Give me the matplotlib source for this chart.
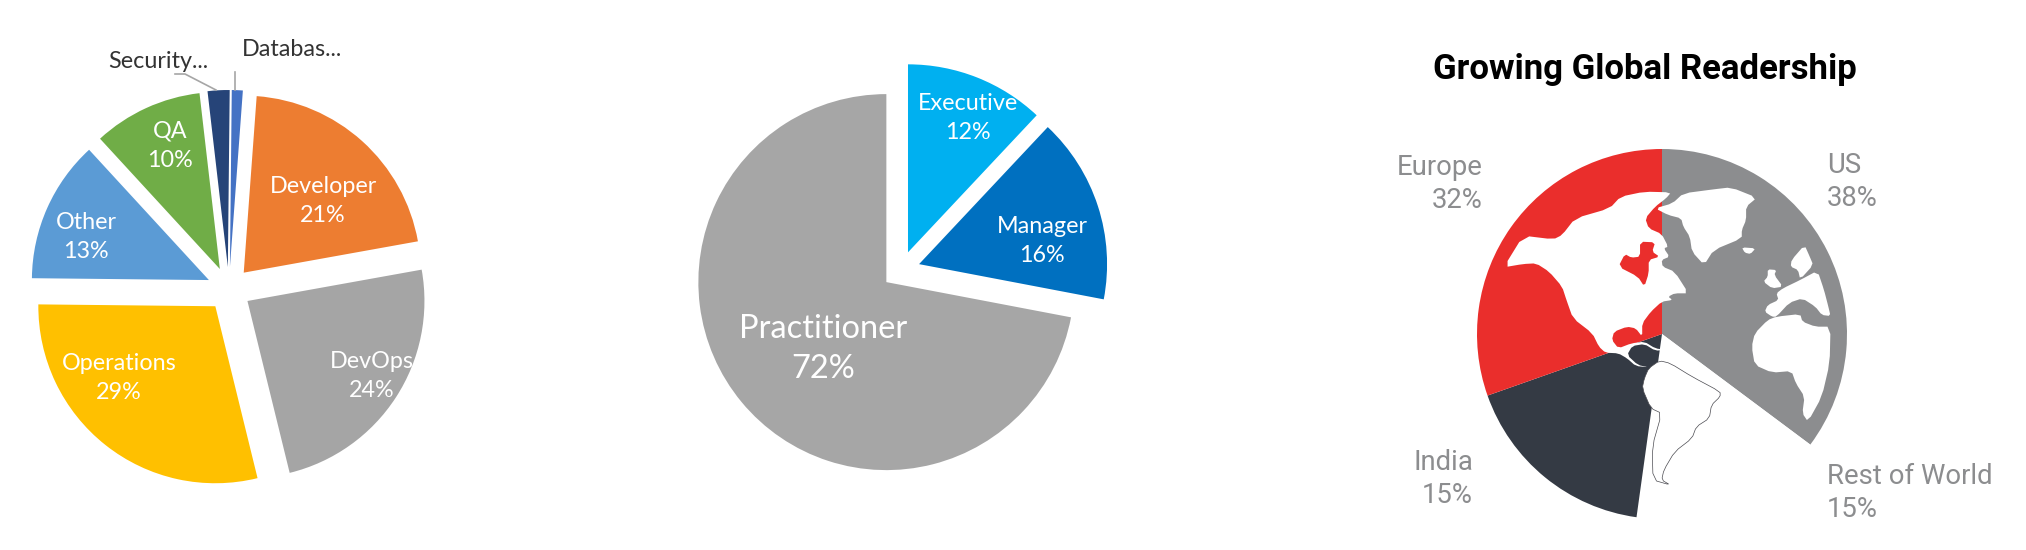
import matplotlib
matplotlib.use("Agg")
import matplotlib.pyplot as plt
import numpy as np
from matplotlib.patches import Polygon

plt.rcParams['font.family'] = ['Lato', 'DejaVu Sans']

# role pie
role_names = ["Developer", "DevOps", "Operations", "Other", "QA", "Security...", "Databas..."]
role_values = [21, 24, 29, 13, 10, 2, 1]
role_colors = ["#ED7D31", "#A5A5A5", "#FFC000", "#5B9BD5", "#70AD47", "#264478", "#4472C4"]

# level pie
level_names = ["Executive", "Manager", "Practitioner"]
level_values = [12, 16, 72]
level_colors = ["#00B0F0", "#0070C0", "#A6A6A6"]

# region pie, slice sizes as drawn in the picture differ from the printed numbers
region_names = ["US", "Rest of World", "India", "Europe"]
region_labels = [38, 15, 15, 32]
region_sizes = [35.2, 17.0, 17.4, 30.4]
region_colors = ["#8C8D8F", "#FFFFFF", "#343A44", "#EA2E2C"]

W, H = 2026, 550
fig = plt.figure(figsize=(W / 100, H / 100), dpi=100)
ax = fig.add_axes([0, 0, 1, 1])


def y_up(y):
    return H - y


# left pie
ax.pie(role_values, colors=role_colors, startangle=85.8, counterclock=False,
       center=(229, y_up(289)), radius=177, explode=[22] * 7, frame=True,
       wedgeprops={"linewidth": 0})

role_text = [(323, 201), (372, 376), (119, 378), (86, 237), (170, 146)]
for (x, y), name, val in zip(role_text, role_names, role_values):
    ax.text(x, y_up(y), f"{name}\n{val}%", color="white", fontsize=16.8, ha="center",
            va="center", linespacing=1.5)

ax.text(158, y_up(62), role_names[5], color="#333333", fontsize=16.8, ha="center", va="center")
ax.text(292, y_up(49), role_names[6], color="#333333", fontsize=16.8, ha="center", va="center")
ax.plot([175, 185, 216], [y_up(74), y_up(74), y_up(90)], color="#A6A6A6", lw=1.2)
ax.plot([235, 235], [y_up(72), y_up(90)], color="#A6A6A6", lw=1.2)

# middle pie
ax.pie(level_values, colors=level_colors, startangle=90, counterclock=False,
       center=(901, y_up(270)), radius=188, explode=[19, 19, 19], frame=True,
       wedgeprops={"linewidth": 0})

level_text = [(968, 118, 16.8), (1042, 241, 16.8), (823, 349, 23.5)]
for (x, y, size), name, val in zip(level_text, level_names, level_values):
    ax.text(x, y_up(y), f"{name}\n{val}%", color="white", fontsize=size, ha="center",
            va="center", linespacing=1.5 if size < 20 else 1.45)

# right pie
ax.pie(region_sizes, colors=region_colors, startangle=90, counterclock=False,
       center=(1662, y_up(334)), radius=185, frame=True, wedgeprops={"linewidth": 0})

ax.set_xlim(0, W)
ax.set_ylim(0, H)
ax.axis("off")


def traced(points, rounds=1):
    pts = np.array(points, dtype=float)
    for i in range(rounds):
        nxt = np.roll(pts, -1, axis=0)
        pts = np.column_stack([0.8 * pts + 0.2 * nxt, 0.2 * pts + 0.8 * nxt]).reshape(-1, 2)
    return np.column_stack([1350 + pts[:, 0] / 2.31, H - (30 + pts[:, 1] / 3)])


america = [(355, 712), (400, 617), (470, 628), (490, 615), (520, 565), (600, 535), (625, 500),
           (680, 485), (742, 487), (730, 505), (705, 530), (682, 565), (690, 595), (720, 612),
           (735, 650), (725, 655), (738, 680), (720, 690), (722, 710), (750, 725), (782, 790),
           (750, 790), (735, 800), (745, 810), (720, 815), (695, 845), (675, 880), (675, 920),
           (660, 895), (640, 890), (610, 905), (605, 930), (620, 955), (650, 940), (680, 935),
           (705, 955), (730, 960), (705, 962), (680, 942), (652, 948), (640, 975), (665, 1005),
           (690, 1012), (660, 1008), (640, 985), (620, 970), (590, 968), (575, 950), (560, 910),
           (515, 865), (500, 810), (490, 770), (460, 725), (430, 700), (400, 702)]
hudson = [(670, 635), (705, 637), (698, 665), (715, 680), (690, 690), (690, 730), (680, 770),
          (665, 740), (620, 710), (635, 672), (650, 683), (670, 680)]
south = [(690, 1015), (715, 992), (740, 1000), (790, 1040), (855, 1085), (855, 1100), (835, 1125),
         (830, 1165), (800, 1190), (790, 1225), (750, 1265), (725, 1320), (720, 1350), (740, 1365),
         (700, 1350), (698, 1250), (720, 1150), (695, 1135), (675, 1075), (680, 1045)]
greenland = [(705, 535), (745, 520), (770, 490), (840, 478), (880, 472), (940, 503), (915, 530),
             (915, 570), (905, 600), (905, 625), (840, 660), (818, 705), (790, 665), (785, 620),
             (770, 590), (765, 565), (735, 555)]
iceland = [(905, 652), (937, 655), (925, 672), (912, 668)]
scandinavia = [(1050, 645), (1020, 690), (1018, 710), (1035, 720), (1040, 748), (1070, 705), (1062, 680)]
britain = [(965, 718), (985, 720), (980, 735), (1000, 770), (975, 775), (955, 755), (965, 740)]
europe = [(1080, 722), (1095, 780), (1105, 830), (1110, 858), (1090, 855), (1075, 830), (1045, 805),
          (1015, 818), (985, 860), (975, 860), (958, 845), (965, 825), (990, 810), (985, 790),
          (1000, 775), (1040, 750)]
africa = [(985, 860), (1040, 852), (1045, 875), (1075, 890), (1110, 890), (1108, 1000), (1090, 1100),
          (1058, 1175), (1045, 1150), (1050, 1100), (1030, 1060), (1020, 1023), (975, 1028),
          (935, 1005), (928, 950), (935, 910), (965, 870)]

for shape in [america, greenland, iceland, scandinavia, britain, europe, africa]:
    ax.add_patch(Polygon(traced(shape), closed=True, fc="white", ec="none", zorder=5))
ax.add_patch(Polygon(traced(south), closed=True, fc="white", ec="#4A4A50", lw=0.5, zorder=5))
ax.add_patch(Polygon(traced(hudson), closed=True, fc=region_colors[3], ec="none", zorder=6))

# region labels
grey = "#8C8D8F"
region_text = [(1827, 182, "left"), (1827, 493, "left"), (1473, 479, "right"), (1483, 184, "right")]
for (x, y, ha), name, val in zip(region_text, region_names, region_labels):
    ax.text(x, y_up(y), f"{name}\n{val}%", color=grey, fontsize=19.8, family="Roboto",
            ha=ha, va="center", linespacing=1.25, zorder=7)

ax.text(1645, y_up(70), "Growing Global Readership", color="black", fontsize=25,
        family="Roboto", fontweight="bold", ha="center", va="center", zorder=7)

fig.savefig("out.png", dpi=100, facecolor="white")
